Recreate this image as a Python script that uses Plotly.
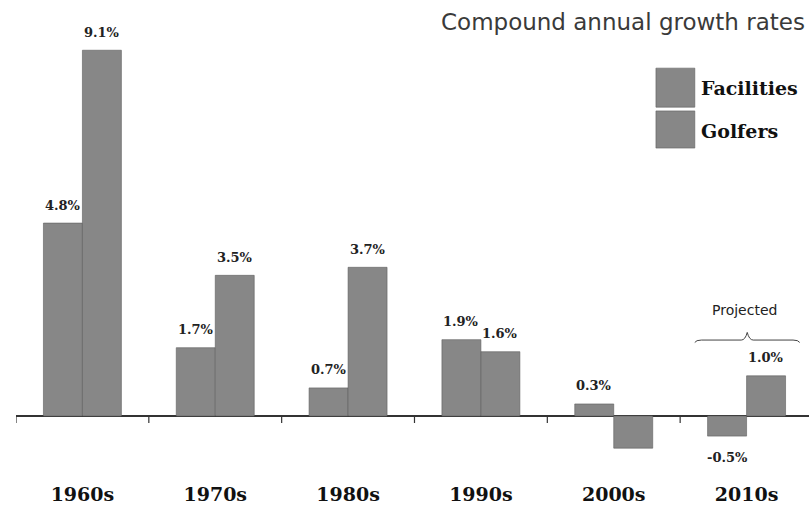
import plotly.graph_objects as go

# Decades and compound annual growth rates (%)
decades = ["1960s", "1970s", "1980s", "1990s", "2000s", "2010s"]
facilities = [4.8, 1.7, 0.7, 1.9, 0.3, -0.5]
golfers = [9.1, 3.5, 3.7, 1.6, -0.8, 1.0]
facilities_labels = ["4.8%", "1.7%", "0.7%", "1.9%", "0.3%", "-0.5%"]
golfers_labels = ["9.1%", "3.5%", "3.7%", "1.6%", None, "1.0%"]

BAR_GRAY = "#878787"
EDGE = "#5e5e5e"
BARGAP = 0.413

xs = list(range(len(decades)))
half = (1 - BARGAP) / 4  # centre offset of each bar within a pair

fig = go.Figure()
fig.add_trace(go.Bar(x=xs, y=facilities, name="Facilities",
                     marker=dict(color=BAR_GRAY, line=dict(color=EDGE, width=0.6))))
fig.add_trace(go.Bar(x=xs, y=golfers, name="Golfers",
                     marker=dict(color=BAR_GRAY, line=dict(color=EDGE, width=0.6))))

label_font = dict(family="DejaVu Serif", size=13, color="#222")
annotations = []
for i, (v, t) in enumerate(zip(facilities, facilities_labels)):
    if t:
        annotations.append(dict(x=i - half, y=v, text=f"<b>{t}</b>", showarrow=False,
                                font=label_font, yanchor="middle",
                                yshift=18 if v >= 0 else -21))
for i, (v, t) in enumerate(zip(golfers, golfers_labels)):
    if t:
        annotations.append(dict(x=i + half, y=v, text=f"<b>{t}</b>", showarrow=False,
                                font=label_font, yanchor="middle",
                                yshift=18 if v >= 0 else -21))

# Title
annotations.append(dict(xref="paper", yref="paper", x=0.997, y=0.953,
                        xanchor="right", yanchor="middle", showarrow=False,
                        text="Compound annual growth rates",
                        font=dict(family="DejaVu Sans", size=23, color="#3a3a3a")))
# Legend text
legend_font = dict(family="DejaVu Serif", size=19, color="#111")
annotations.append(dict(xref="paper", yref="paper", x=0.861, y=0.813,
                        xanchor="left", yanchor="middle", showarrow=False,
                        text="<b>Facilities</b>", font=legend_font))
annotations.append(dict(xref="paper", yref="paper", x=0.861, y=0.721,
                        xanchor="left", yanchor="middle", showarrow=False,
                        text="<b>Golfers</b>", font=legend_font))
# Projected note
annotations.append(dict(x=4.985, y=2.63, text="Projected", showarrow=False,
                        font=dict(family="DejaVu Sans", size=14, color="#222")))

shapes = []
# Legend swatches
for y0, y1 in [(0.772, 0.855), (0.685, 0.764)]:
    shapes.append(dict(type="rect", xref="paper", yref="paper",
                       x0=0.807, x1=0.856, y0=y0, y1=y1,
                       fillcolor=BAR_GRAY, line=dict(color=EDGE, width=0.6)))
# Category boundary ticks below the zero line
for b in [i - 0.5 for i in range(len(decades) + 1)]:
    shapes.append(dict(type="line", xref="x", yref="y", ysizemode="pixel",
                       yanchor=0, x0=b, x1=b, y0=0, y1=-7,
                       line=dict(color="#333", width=1.2)))
# Brace over the projected decade
shapes.append(dict(type="path", xref="x", yref="y",
                   path="M 4.61 1.83 Q 4.62 1.89 4.66 1.89 L 4.96 1.89 "
                        "Q 4.99 1.89 5.005 2.08 Q 5.02 1.89 5.05 1.89 "
                        "L 5.35 1.89 Q 5.39 1.89 5.40 1.83",
                   line=dict(color="#444", width=1)))

fig.update_layout(
    width=809, height=510,
    margin=dict(l=16, r=0, t=0, b=40),
    paper_bgcolor="white", plot_bgcolor="white",
    barmode="group", bargap=BARGAP, bargroupgap=0,
    showlegend=False,
    annotations=annotations, shapes=shapes,
    xaxis=dict(range=[-0.5, 5.47], tickvals=xs, ticktext=[f"<b>{d}</b>" for d in decades],
               ticks="", showgrid=False, zeroline=False, showline=False,
               tickfont=dict(family="DejaVu Serif", size=19, color="#111"),
               ticklabelstandoff=11),
    yaxis=dict(range=[-1.343, 10.35], visible=True, showticklabels=False,
               ticks="", showgrid=False, zeroline=True, zerolinecolor="#333",
               zerolinewidth=1.5, showline=False),
)

fig.write_html("out.html")
